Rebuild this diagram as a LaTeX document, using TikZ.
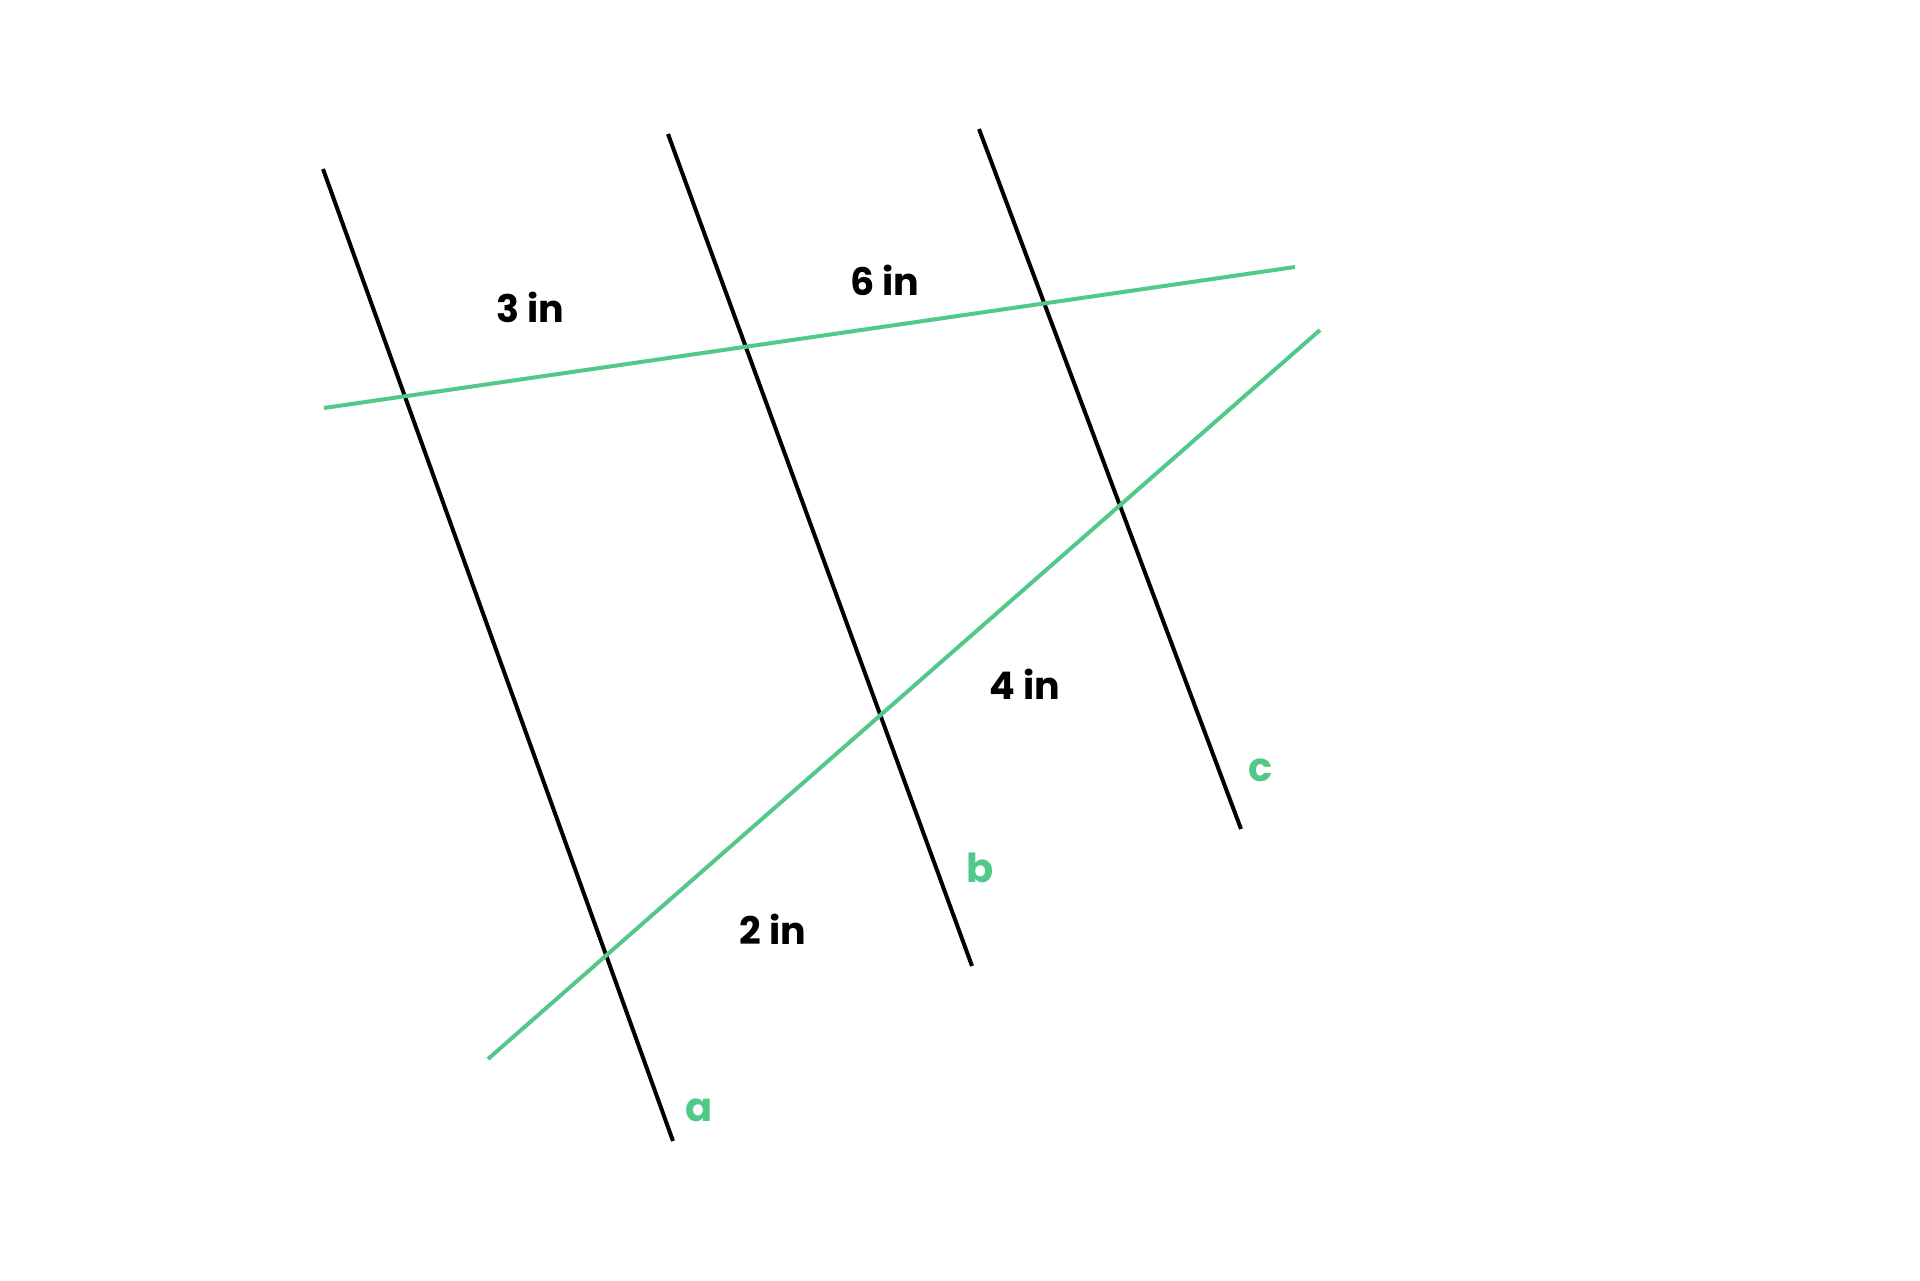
\documentclass[tikz,border=0pt]{standalone}
\usepackage{fontspec}
\setmainfont{Poppins}
\definecolor{lgreen}{RGB}{82,201,138}
\begin{document}
\begin{tikzpicture}[x=0.5pt,y=-0.5pt,
  blackline/.style={line width=2pt,black},
  greenline/.style={line width=2pt,lgreen},
  meas/.style={font=\fontsize{19}{23}\selectfont\bfseries,inner sep=0pt,anchor=center},
  lab/.style={font=\fontsize{20}{24}\selectfont\bfseries,text=lgreen,inner sep=0pt,anchor=center}]
\useasboundingbox (0,0) rectangle (1920,1280);
% endpoints
\coordinate (a1) at (323,169);
\coordinate (a2) at (673,1141);
\coordinate (b1) at (668,134);
\coordinate (b2) at (972,966);
\coordinate (c1) at (979,129);
\coordinate (c2) at (1241,829);
\coordinate (g1) at (324,408);
\coordinate (g2) at (1295,267);
\coordinate (h1) at (488,1059);
\coordinate (h2) at (1320,330);
% lines
\draw[blackline] (a1) -- (a2);
\draw[blackline] (b1) -- (b2);
\draw[blackline] (c1) -- (c2);
\draw[greenline] (g1) -- (g2);
\draw[greenline] (h1) -- (h2);
% labels
\node[meas] (m3) at (530,307) {3 in};
\node[meas] (m6) at (885,280) {6 in};
\node[meas] (m4) at (1025,684) {4 in};
\node[meas] (m2) at (773,929) {2 in};
\node[lab] (la) at (699,1110) {a};
\node[lab] (lb) at (980,868) {b};
\node[lab] (lc) at (1261,770) {c};
\end{tikzpicture}
\end{document}
